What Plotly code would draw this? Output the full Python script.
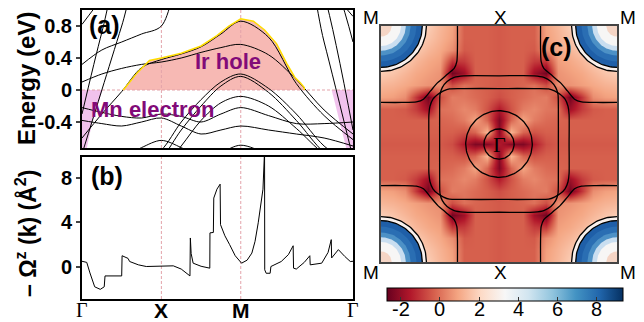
import numpy as np
import plotly.graph_objects as go

# ---------------- data: panel (a) band structure ----------------
k_nodes = [0, 0.25, 0.5, 0.75, 1.0, 1.25, 1.5, 1.75, 2.0, 2.35, 2.7, 3.05, 3.414]
band_01 = [0.82, 1.15, 1.5, 1.8, 1.8, 1.8, 1.8, 1.8, 1.8, 1.8, 1.8, 1.35, 0.92]
band_02 = [0.32, 0.5, 0.6, 0.7, 0.8, 1.5, 1.8, 1.8, 1.8, 1.8, 1.8, 1.6, 0.6]
band_03 = [-0.3, 0.72, 1.6, 1.8, 1.8, 1.8, 1.8, 1.8, 1.8, 1.8, 1.9, 0.6, -0.85]
band_04 = [-0.8, 0.0, 0.8, 1.6, 1.8, 1.8, 1.8, 1.8, 1.8, 1.8, 2.2, 1.2, -0.5]
band_05 = [-0.6, -0.3, -0.02, 0.28, 0.38, 0.45, 0.54, 0.7, 0.86, 0.66, 0.08, -0.32, -0.62]
band_06 = [0.1, 0.2, 0.27, 0.32, 0.35, 0.4, 0.47, 0.53, 0.57, 0.44, 0.13, -0.25, -0.55]
band_07 = [-0.95, -0.95, -0.95, -0.9, -0.75, -0.4, -0.12, 0.1, 0.2, 0.02, -0.3, -0.7, -0.95]
band_08 = [-1.0, -1.0, -1.0, -1.0, -0.85, -0.5, -0.2, 0.05, 0.17, -0.03, -0.38, -0.78, -1.0]
band_09 = [-1.0, -1.0, -1.0, -1.0, -1.0, -0.7, -0.38, -0.16, -0.08, -0.2, -0.48, -0.8, -1.0]
band_10 = [-0.22, -0.28, -0.33, -0.35, -0.3, -0.33, -0.4, -0.3, -0.22, -0.32, -0.42, -0.42, -0.4]
band_11 = [-0.38, -0.42, -0.45, -0.4, -0.35, -0.45, -0.55, -0.5, -0.45, -0.5, -0.55, -0.6, -0.7]
band_12 = [-0.75, -0.8, -0.85, -0.72, -0.63, -0.72, -0.85, -0.78, -0.69, -0.8, -0.9, -1.0, -1.0]
bands = [band_01, band_02, band_03, band_04, band_05, band_06, band_07,
         band_08, band_09, band_10, band_11, band_12]

hole_k = [0.52, 0.7, 0.85, 1.0, 1.25, 1.5, 1.7, 1.85, 2.0, 2.16, 2.3, 2.45, 2.58, 2.68, 2.75, 2.8, 2.8]
hole_e = [0.0, 0.22, 0.37, 0.4, 0.46, 0.55, 0.68, 0.8, 0.89, 0.86, 0.75, 0.58, 0.33, 0.16, 0.09, 0.03, 0.0]
elec_left_k = [0, 0.26, 0.14, 0.06, 0]
elec_left_e = [0, 0, -0.35, -0.73, -0.73]
elec_right_k = [3.145, 3.414, 3.414, 3.33]
elec_right_e = [0, 0, -0.73, -0.73]

hs_k = [0, 1, 2, 3.414]
hs_labels = ["Γ", "X", "M", "Γ"]

# ---------------- data: panel (b) Berry curvature ----------------
omega_k = [0, 0.06, 0.1, 0.16, 0.23, 0.28, 0.29, 0.5, 0.505, 0.58, 0.6, 0.71, 0.81, 1.0,
           1.15, 1.25, 1.36, 1.365, 1.375, 1.4, 1.5, 1.61, 1.612, 1.655, 1.66, 1.7, 1.74,
           1.745, 1.8, 1.86, 1.93, 2.01, 2.08, 2.14, 2.18, 2.22, 2.25, 2.28, 2.3, 2.302,
           2.32, 2.37, 2.38, 2.51, 2.6, 2.66, 2.665, 2.7, 2.8, 2.87, 2.875, 3.02, 3.1,
           3.14, 3.145, 3.23, 3.31, 3.38, 3.414]
omega_v = [0.5, 0.4, -0.55, -1.8, -2.03, -1.8, -0.82, -0.82, 1.0, 0.76, 0.48, 0.18, 0.03, 0.03,
           0.09, -0.2, -0.82, 2.6, 1.2, 0.33, 0.05, -0.12, 3.06, 3.1, 6.2, 7.0, 7.45,
           3.8, 2.8, 2.0, 1.0, 0.33, 0.6, 1.24, 2.3, 3.97, 5.3, 7.0, 10.5, -0.27,
           -0.58, -0.58, 0.03, 0.48, 1.1, 1.9, -0.12, -0.2, 0.4, 1.0, 0.18, 0.33, 1.3,
           2.45, 0.8, 1.55, 0.94, 0.48, 0.5]

# ---------------- data: panel (c) Berry curvature map ----------------
grid_q = [0.0, 0.1, 0.2, 0.3, 0.4, 0.5, 0.6, 0.7, 0.8, 0.9, 1.0]
q_row_00 = [-1.5, -2.2, -2.3, -1.5, -0.6, -0.4, -0.4, -0.4, -0.4, -0.4, -0.4]
q_row_01 = [-2.2, 1.2, -0.2, -0.5, -0.3, -0.3, -0.3, -0.3, -0.3, -0.3, -0.3]
q_row_02 = [-2.3, -0.2, 0.9, 0.2, -0.1, -0.2, -0.3, -0.3, -0.3, -0.3, -0.3]
q_row_03 = [-1.5, -0.5, 0.2, 0.4, 0.1, 0.0, -1.8, -0.9, -0.4, -0.3, -0.3]
q_row_04 = [-0.6, -0.3, -0.1, 0.1, 0.2, -0.6, -2.5, -1.0, 0.5, 0.8, 0.9]
q_row_05 = [-0.4, -0.3, -0.2, 0.0, -0.6, 0.5, 0.6, 0.8, 1.0, 1.2, 1.3]
q_row_06 = [-0.4, -0.3, -0.3, -1.8, -2.5, 0.6, 0.8, 1.0, 1.3, 1.6, 1.8]
q_row_07 = [-0.4, -0.3, -0.3, -0.9, -1.0, 0.8, 1.0, 1.3, 1.7, 2.0, 2.0]
q_row_08 = [-0.4, -0.3, -0.3, -0.4, 0.5, 1.0, 1.3, 1.7, 2.0, 2.0, 2.0]
q_row_09 = [-0.4, -0.3, -0.3, -0.3, 0.8, 1.2, 1.6, 2.0, 2.0, 2.0, 2.0]
q_row_10 = [-0.4, -0.3, -0.3, -0.3, 0.9, 1.3, 1.8, 2.0, 2.0, 2.0, 1.8]
quadrant = [q_row_00, q_row_01, q_row_02, q_row_03, q_row_04, q_row_05,
            q_row_06, q_row_07, q_row_08, q_row_09, q_row_10]

gamma_circle_r = [0.128, 0.282]
fs1_u = [0.503, 0.503, 0.50, 0.48, 0.44, 0.38, 0.30, 0.0]
fs1_v = [0.0, 0.30, 0.42, 0.48, 0.53, 0.565, 0.578, 0.578]
fs2_u = [0.594, 0.594, 0.585, 0.56, 0.52, 0.47, 0.42, 0.30, 0.0]
fs2_v = [0.0, 0.25, 0.32, 0.38, 0.42, 0.45, 0.468, 0.47, 0.47]
corner_u = [0.352, 0.352, 0.357, 0.38, 0.45, 0.52, 0.58, 0.64, 0.70, 0.82, 1.0]
corner_v = [1.0, 0.82, 0.70, 0.64, 0.58, 0.52, 0.45, 0.38, 0.357, 0.352, 0.352]
pocket_r = [0.385, 0.35, 0.30, 0.25, 0.21, 0.17, 0.09]
pocket_col = ["#f9f0ec", "#1f5fa8", "#2a6eb3", "#4d91c6", "#c9def0", "#f7f6f5", "#f5d5c5"]
pocket_line_r = [0.385, 0.35]

cbar_vals = [-2, 0, 2, 4, 6, 8]
cbar_min, cbar_max = -2.7, 9.33

# ---------------- helpers (page body has an 8px margin) ----------------
OFF = 8
W, H = 644 - OFF, 322 - OFF
def px(x):
    return (x - OFF) / W
def py(y):
    return 1 - (y - OFF) / H

FONT = "Liberation Sans"
PURPLE = "#820a78"
DASH = "#e3a3aa"
CB_LEFT, CB_LEN = 387, 236

fig = go.Figure()

# ---- panel (a) ----
fig.add_trace(go.Scatter(x=hole_k, y=hole_e, fill="toself", fillcolor="rgba(240,128,118,0.55)",
                         line=dict(width=0), mode="lines", xaxis="x", yaxis="y", hoverinfo="skip"))
fig.add_trace(go.Scatter(x=elec_left_k, y=elec_left_e, fill="toself", fillcolor="rgba(225,120,215,0.45)",
                         line=dict(width=0), mode="lines", xaxis="x", yaxis="y", hoverinfo="skip"))
fig.add_trace(go.Scatter(x=elec_right_k, y=elec_right_e, fill="toself", fillcolor="rgba(225,120,215,0.45)",
                         line=dict(width=0), mode="lines", xaxis="x", yaxis="y", hoverinfo="skip"))
for xv in hs_k[1:3]:
    fig.add_trace(go.Scatter(x=[xv, xv], y=[-0.725, 1.0], mode="lines",
                             line=dict(color=DASH, width=1, dash="3px,2px"), xaxis="x", yaxis="y"))
    fig.add_trace(go.Scatter(x=[xv, xv], y=[-2.9, 9.9], mode="lines",
                             line=dict(color=DASH, width=1, dash="3px,2px"), xaxis="x2", yaxis="y2"))
fig.add_trace(go.Scatter(x=[hs_k[0], hs_k[-1]], y=[0, 0], mode="lines",
                         line=dict(color=DASH, width=1, dash="3px,2px"), xaxis="x", yaxis="y"))
for b in bands:
    fig.add_trace(go.Scatter(x=k_nodes, y=b, mode="lines",
                             line=dict(color="black", width=1, shape="spline", smoothing=0.9),
                             xaxis="x", yaxis="y"))
fig.add_trace(go.Scatter(x=hole_k, y=hole_e, mode="lines", line=dict(color="#ffdd00", width=1.5),
                         xaxis="x", yaxis="y"))

# ---- panel (b) ----
fig.add_trace(go.Scatter(x=omega_k, y=omega_v, mode="lines", line=dict(color="black", width=1),
                         xaxis="x2", yaxis="y2"))

# ---- panel (c) ----
qa = np.array(quadrant)
full = np.concatenate([qa[::-1, :], qa[1:, :]], axis=0)
full = np.concatenate([full[:, ::-1], full[:, 1:]], axis=1)
g = np.array(grid_q)
gfull = np.concatenate([-g[::-1], g[1:]])

rdbu = [[0.0, "rgb(103,0,31)"], [0.1, "rgb(178,24,43)"], [0.2, "rgb(214,96,77)"],
        [0.3, "rgb(244,165,130)"], [0.4, "rgb(253,219,199)"], [0.5, "rgb(247,247,247)"],
        [0.6, "rgb(209,229,240)"], [0.7, "rgb(146,197,222)"], [0.8, "rgb(67,147,195)"],
        [0.9, "rgb(33,102,172)"], [1.0, "rgb(5,48,97)"]]

fig.add_trace(go.Heatmap(
    x=gfull, y=gfull, z=full, zsmooth="best", colorscale=rdbu, zmin=cbar_min, zmax=cbar_max,
    xaxis="x3", yaxis="y3",
    colorbar=dict(orientation="h", x=px(CB_LEFT), xanchor="left", y=py(288), yanchor="top",
                  len=CB_LEN / W, lenmode="fraction", thickness=13, thicknessmode="pixels",
                  outlinewidth=1, outlinecolor="black", xpad=0, ypad=0,
                  tickvals=cbar_vals, showticklabels=False,
                  ticks="inside", ticklen=4, tickcolor="#333")))

theta_q = np.linspace(0, np.pi / 2, 40)
corners = [(1, 1), (-1, 1), (-1, -1), (1, -1)]
for (sx, sy) in corners:
    for r, col in zip(pocket_r, pocket_col):
        xs = np.concatenate([[sx], sx * (1 - r * np.cos(theta_q)), [sx]])
        ys = np.concatenate([[sy], sy * (1 - r * np.sin(theta_q)), [sy]])
        fig.add_trace(go.Scatter(x=xs, y=ys, fill="toself", fillcolor=col, mode="lines",
                                 line=dict(width=0), xaxis="x3", yaxis="y3"))
    for r in pocket_line_r:
        fig.add_trace(go.Scatter(x=sx * (1 - r * np.cos(theta_q)), y=sy * (1 - r * np.sin(theta_q)),
                                 mode="lines", line=dict(color="black", width=1.3), xaxis="x3", yaxis="y3"))
    fig.add_trace(go.Scatter(x=sx * np.array(corner_u), y=sy * np.array(corner_v), mode="lines",
                             line=dict(color="black", width=1.3, shape="spline", smoothing=0.6),
                             xaxis="x3", yaxis="y3"))

def closed(u, v):
    u = np.array(u); v = np.array(v)
    xs = np.concatenate([u, -u[::-1], -u, u[::-1]])
    ys = np.concatenate([v, v[::-1], -v, -v[::-1]])
    return xs, ys

for (u, v) in [(fs1_u, fs1_v), (fs2_u, fs2_v)]:
    xs, ys = closed(u, v)
    fig.add_trace(go.Scatter(x=xs, y=ys, mode="lines",
                             line=dict(color="black", width=1.3, shape="spline", smoothing=0.6),
                             xaxis="x3", yaxis="y3"))
theta = np.linspace(0, 2 * np.pi, 121)
for r in gamma_circle_r:
    fig.add_trace(go.Scatter(x=r * np.cos(theta), y=r * np.sin(theta), mode="lines",
                             line=dict(color="black", width=1.3), xaxis="x3", yaxis="y3"))

# ---------------- layout ----------------
box = dict(showline=True, mirror=True, linecolor="black", linewidth=2, showgrid=False, zeroline=False)
tickf = dict(family=FONT, size=20, color="black", weight="bold")
fig.update_layout(
    width=W, height=H, margin=dict(l=0, r=0, t=0, b=0, autoexpand=False),
    paper_bgcolor="white", plot_bgcolor="white", showlegend=False,
    xaxis=dict(domain=[px(82), px(353)], range=[0, 3.414], showticklabels=False, ticks="",
               anchor="y", **box),
    yaxis=dict(domain=[py(148), py(10)], range=[-0.725, 1.0], tickvals=[-0.4, 0, 0.4, 0.8],
               ticktext=["-0.4", "0", "0.4", "0.8"], ticks="outside", ticklen=4, tickwidth=1.5,
               tickfont=tickf, anchor="x", **box),
    xaxis2=dict(domain=[px(82), px(353)], range=[0, 3.414], showticklabels=False, ticks="",
                anchor="y2", **box),
    yaxis2=dict(domain=[py(299), py(157)], range=[-2.9, 9.9], tickvals=[0, 4, 8],
                ticktext=["0", "4", "8"], ticks="outside", ticklen=4, tickwidth=1.5,
                tickfont=tickf, anchor="x2", **box),
    xaxis3=dict(domain=[px(381), px(617)], range=[-1, 1], showticklabels=False, ticks="",
                anchor="y3", showline=True, mirror=True, linecolor="#444", linewidth=1.5,
                showgrid=False, zeroline=False),
    yaxis3=dict(domain=[py(262), py(26)], range=[-1, 1], showticklabels=False, ticks="",
                anchor="x3", showline=True, mirror=True, linecolor="#444", linewidth=1.5,
                showgrid=False, zeroline=False),
)

ann = []
def A(text, x, y, size, bold=False, color="black", family=FONT, angle=0, xref="paper", yref="paper"):
    ann.append(dict(text=text, x=x, y=y, xref=xref, yref=yref, showarrow=False,
                    font=dict(family=family, size=size, color=color, weight="bold" if bold else "normal"),
                    textangle=angle, xanchor="center", yanchor="middle"))

A("Energy (eV)", px(26), py(79), 24, bold=True, angle=-90)
A("– Ω<sup>z</sup> (k) (Å<sup>2</sup>)", px(26), py(234), 23, bold=True, angle=-90)
A("(a)", px(104), py(25), 25, bold=True)
A("(b)", px(107), py(176), 25, bold=True)
A("(c)", px(556), py(47), 25, bold=True)
A("Ir hole", px(228), py(62), 22, bold=True, color=PURPLE)
A("Mn electron", px(152), py(109), 22, bold=True, color=PURPLE)
for kv, lab in zip(hs_k, hs_labels):
    if lab == "Γ":
        A(lab, kv, py(310), 20, family="Liberation Serif", xref="x2")
    else:
        A(lab, kv, py(310), 21, bold=True, xref="x2")
A("M", px(371), py(18), 19)
A("X", px(500), py(18), 19)
A("M", px(628), py(18), 19)
A("M", px(371), py(272), 19)
A("X", px(500), py(272), 19)
A("M", px(628), py(272), 19)
A("Γ", 0, 0, 22, family="Liberation Serif", xref="x3", yref="y3")
for v in cbar_vals:
    xpix = CB_LEFT + (v - cbar_min) / (cbar_max - cbar_min) * CB_LEN
    A(str(v), px(xpix), py(309), 20)
fig.update_layout(annotations=ann)

fig.write_html("out.html")
